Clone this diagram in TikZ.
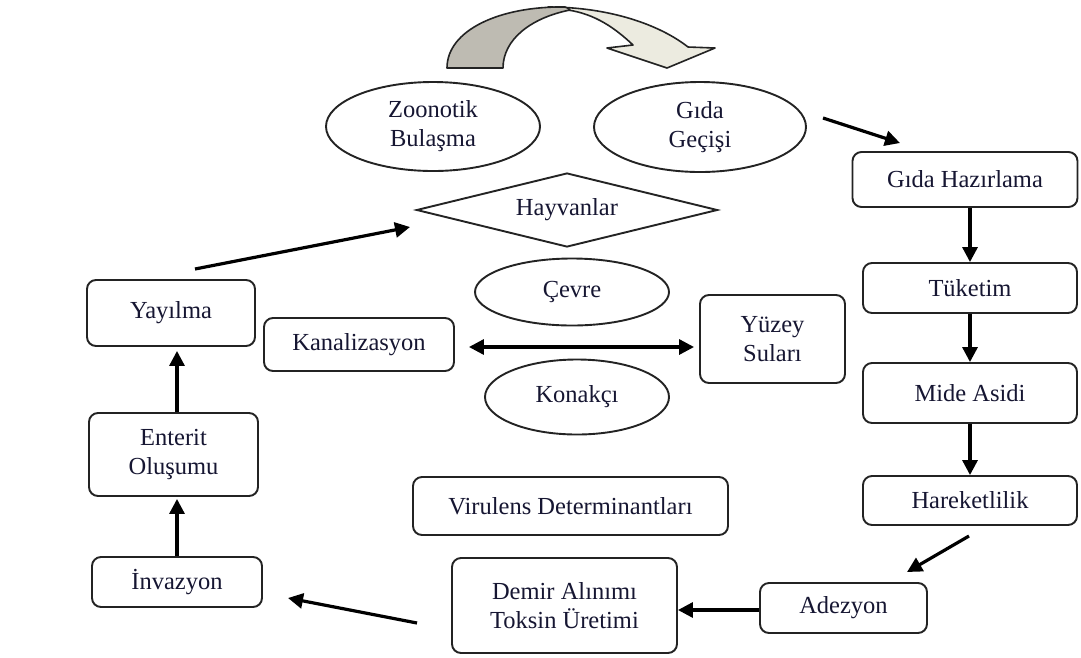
\documentclass[tikz,border=0pt]{standalone}
\usepackage{fontspec}
\setmainfont{Liberation Serif}
\usetikzlibrary{shapes.geometric,arrows.meta}
\definecolor{txt}{RGB}{22,22,50}
\definecolor{edge}{RGB}{35,35,35}
\definecolor{darkband}{RGB}{190,187,178}
\definecolor{lightband}{RGB}{236,235,224}
\begin{document}
\begin{tikzpicture}[x=1pt,y=-1pt,
  font=\fontsize{24.5}{29}\selectfont,
  box/.style={draw=edge, line width=1.9pt, rounded corners=9pt, text=txt, align=center, inner sep=0pt},
  ell/.style={ellipse, draw=edge, line width=1.9pt, text=txt, align=center, inner sep=0pt},
  dia/.style={diamond, draw=edge, line width=1.9pt, text=txt, align=center, inner sep=0pt, shape aspect=4},
  arr/.style={line width=3.2pt, draw=black, -{Triangle[length=15pt,width=15pt]}},
  darr/.style={line width=3.2pt, draw=black, {Triangle[length=15pt,width=15pt]}-{Triangle[length=15pt,width=15pt]}}
]
\useasboundingbox[fill=white] (0,0) rectangle (1081,657);

% top curved arrow
\filldraw[fill=lightband, draw=edge, line width=1.6pt, line join=round]
  (548,7) .. controls (610,7) and (660,25) .. (688,47) -- (715,48) -- (667,68) -- (607,48) -- (633,45)
  .. controls (615,28) and (595,14) .. (568,10) -- cycle;
\filldraw[fill=darkband, draw=edge, line width=1.6pt, line join=round]
  (447,68) .. controls (447,30) and (500,6) .. (565,7) .. controls (568,8) and (570,9) .. (570,10)
  .. controls (530,18) and (503,40) .. (503,68) -- cycle;

% ellipses and diamond
\node[ell, minimum width=214pt, minimum height=89pt] (zoo) at (433,126.5) {Zoonotik\\Bulaşma};
\node[ell, minimum width=212pt, minimum height=90pt] (gid) at (700,127) {Gıda\\Geçişi};
\node[dia, minimum width=301pt, minimum height=74pt] (hay) at (567,210) {Hayvanlar};
\node[ell, minimum width=194pt, minimum height=67pt] (cev) at (572,292) {Çevre};
\node[ell, minimum width=184pt, minimum height=75pt] (kon) at (577,397) {Konakçı};

% boxes
\node[box, minimum width=168pt, minimum height=66pt] (yay) at (171,313) {Yayılma};
\node[box, minimum width=190pt, minimum height=53pt] (kan) at (359,344.5) {Kanalizasyon};
\node[box, minimum width=145pt, minimum height=88pt] (yuz) at (772.5,339) {Yüzey\\Suları};
\node[box, minimum width=225pt, minimum height=55pt] (gh) at (965,179.5) {Gıda Hazırlama};
\node[box, minimum width=214pt, minimum height=50pt] (tuk) at (970,288) {Tüketim};
\node[box, minimum width=214pt, minimum height=60pt] (mide) at (970,393) {Mide Asidi};
\node[box, minimum width=214pt, minimum height=49pt] (har) at (970,500.5) {Hareketlilik};
\node[box, minimum width=167pt, minimum height=50pt] (ade) at (843.5,608) {Adezyon};
\node[box, minimum width=225pt, minimum height=95pt] (dem) at (564.5,605.5) {Demir Alınımı\\Toksin Üretimi};
\node[box, minimum width=315pt, minimum height=58pt] (vir) at (570.5,506) {Virulens Determinantları};
\node[box, minimum width=170pt, minimum height=50pt] (inv) at (177,582) {İnvazyon};
\node[box, minimum width=169pt, minimum height=83pt] (ent) at (173.5,454.5) {Enterit\\Oluşumu};

% free arrow ends
\coordinate (a1s) at (195,269);
\coordinate (a1e) at (410,227);
\coordinate (a2s) at (823,118);
\coordinate (a2e) at (900,143);
\coordinate (a3s) at (969,536);
\coordinate (a3e) at (907,572);
\coordinate (a4s) at (417,623);
\coordinate (a4e) at (288,598);
\coordinate (colR) at (970,0);
\coordinate (colL) at (177,0);

% connectors
\draw[arr] (a1s) -- (a1e);
\draw[arr] (a2s) -- (a2e);
\draw[arr] (gh.south -| colR) -- (tuk.north -| colR);
\draw[arr] (tuk.south -| colR) -- (mide.north -| colR);
\draw[arr] (mide.south -| colR) -- (har.north -| colR);
\draw[arr] (a3s) -- (a3e);
\draw[arr] (ade.west |- 0,610) -- (dem.east |- 0,610);
\draw[arr] (a4s) -- (a4e);
\draw[arr] (inv.north -| colL) -- ([yshift=-2pt]ent.south -| colL);
\draw[arr, shorten >=4pt] (ent.north -| colL) -- (yay.south -| colL);
\draw[darr, shorten <=14pt, shorten >=5pt] (kan.east |- 0,347) -- (yuz.west |- 0,347);
\end{tikzpicture}
\end{document}
